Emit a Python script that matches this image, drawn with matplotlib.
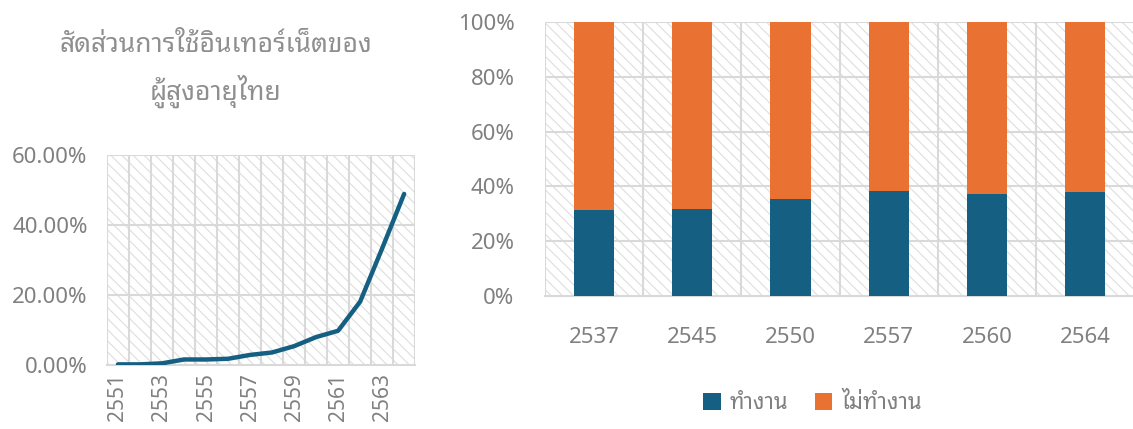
import matplotlib
matplotlib.use("Agg")
import numpy as np
import matplotlib.pyplot as plt
from matplotlib.patches import Rectangle
from matplotlib.ticker import PercentFormatter

plt.rcParams['font.family'] = ['Noto Sans Thai Looped', 'DejaVu Sans']
plt.rcParams['hatch.color'] = '#dedede'
plt.rcParams['hatch.linewidth'] = 0.8

# Internet use among Thai elderly (share of population)
years_net = [2551, 2552, 2553, 2554, 2555, 2556, 2557,
             2558, 2559, 2560, 2561, 2562, 2563, 2564]
net_share = [0.2, 0.2, 0.5, 1.6, 1.6, 1.8, 2.9,
             3.6, 5.4, 8.0, 9.8, 18.1, 33.3, 48.9]

# Working vs not working (percent of elderly)
years_work = ['2537', '2545', '2550', '2557', '2560', '2564']
working = [31.5, 31.7, 35.3, 38.3, 37.3, 37.8]
not_working = [100 - w for w in working]

BLUE = '#156082'
ORANGE = '#E97132'
GRID = '#d9d9d9'
TEXT = '#808080'


def hatched_background(ax):
    bg = Rectangle((0, 0), 1, 1, transform=ax.transAxes, facecolor='white',
                   edgecolor='#dedede', hatch='\\\\\\', linewidth=0, zorder=0)
    ax.add_patch(bg)


def style_axes(ax):
    for side in ['top', 'right', 'left']:
        ax.spines[side].set_visible(False)
    ax.spines['bottom'].set_color(GRID)
    ax.spines['bottom'].set_linewidth(1.5)
    ax.tick_params(length=0, colors=TEXT, labelsize=16)


fig = plt.figure(figsize=(11.33, 4.29), dpi=100)

# ---- left: line chart ----
ax1 = fig.add_axes([0.0944, 0.149, 0.272, 0.4895])
hatched_background(ax1)
x = np.arange(len(years_net))
ax1.plot(x, net_share, color=BLUE, linewidth=3.2,
         solid_joinstyle='round', solid_capstyle='round', zorder=3)
ax1.set_xlim(-0.5, len(years_net) - 0.5)
ax1.set_ylim(0, 60)
ax1.set_yticks([0, 20, 40, 60])
ax1.yaxis.set_major_formatter(PercentFormatter(100, decimals=2))
for b in np.arange(-0.5, len(years_net), 1.0):
    ax1.axvline(b, color=GRID, linewidth=1.5, zorder=1)
for v in [20, 40, 60]:
    ax1.axhline(v, color=GRID, linewidth=1.5, zorder=1)
ax1.set_xticks(x[::2])
ax1.set_xticklabels([str(y) for y in years_net[::2]], rotation=90, va='top')
style_axes(ax1)
ax1.tick_params(axis='y', pad=14)
ax1.tick_params(axis='x', pad=6, labelsize=15)

fig.text(0.19, 0.895, 'สัดส่วนการใช้อินเทอร์เน็ตของ', ha='center', va='center',
         fontsize=19, fontweight='bold', color='#8f8f8f')
fig.text(0.19, 0.787, 'ผู้สูงอายุไทย', ha='center', va='center',
         fontsize=19, fontweight='bold', color='#8f8f8f')

# ---- right: 100% stacked bars ----
ax2 = fig.add_axes([0.481, 0.31, 0.52, 0.639])
hatched_background(ax2)
xb = np.arange(len(years_work))
ax2.bar(xb, working, width=0.41, color=BLUE, label='ทำงาน', zorder=3)
ax2.bar(xb, not_working, width=0.41, bottom=working, color=ORANGE,
        label='ไม่ทำงาน', zorder=3)
ax2.set_xlim(-0.5, len(years_work) - 0.5)
ax2.set_ylim(0, 100)
ax2.set_yticks(np.arange(0, 101, 20))
ax2.yaxis.set_major_formatter(PercentFormatter(100, decimals=0))
for b in np.arange(-0.5, len(years_work), 1.0):
    ax2.axvline(b, color=GRID, linewidth=1.5, zorder=1)
for v in [20, 40, 60, 80, 100]:
    ax2.axhline(v, color=GRID, linewidth=1.5, zorder=1)
ax2.set_xticks(xb)
ax2.set_xticklabels(years_work)
style_axes(ax2)
ax2.tick_params(axis='y', pad=22)
ax2.tick_params(axis='x', pad=22)

leg = fig.legend(loc='center', bbox_to_anchor=(0.717, 0.06), ncol=2, frameon=False,
                 fontsize=16, handlelength=0.8, handleheight=0.8,
                 handletextpad=0.4, columnspacing=1.2)
for t in leg.get_texts():
    t.set_color(TEXT)

fig.savefig('out.png', dpi=100)
